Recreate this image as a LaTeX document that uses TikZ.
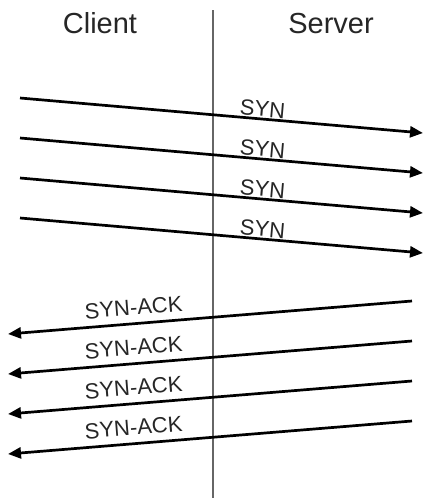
\documentclass[tikz,border=0pt]{standalone}
\usepackage{fontspec}
\setmainfont{Liberation Sans}
\usetikzlibrary{arrows.meta}
\begin{document}
\begin{tikzpicture}[x=1pt,y=-1pt,
  msg/.style={line width=2.7pt, -{Triangle[length=13pt,width=11pt]}},
  lbl/.style={font=\fontsize{22}{24}\selectfont, sloped, inner sep=1pt, text=black!85},
  head/.style={font=\fontsize{29}{32}\selectfont, anchor=base, text=black!85},
  divider/.style={line width=1.6pt, black!60}]
\useasboundingbox (0,0) rectangle (432,498);
% headings
\node[head] (client) at (100,33) {Client};
\node[head] (server) at (331,33) {Server};
% divider
\coordinate (vt) at (213,10);
\coordinate (vb) at (213,498);
\draw[divider] (vt) -- (vb);
% SYN messages
\foreach \i/\y in {1/98,2/138,3/178,4/218}{
  \coordinate (c\i) at (20,\y);
  \coordinate (s\i) at (423,\y+35);
  \draw[msg] (c\i) -- node[lbl, pos=0.6, above] (syn\i) {SYN} (s\i);
}
% SYN-ACK messages
\foreach \i/\y in {1/301,2/341,3/381,4/421}{
  \coordinate (sa\i) at (412,\y);
  \coordinate (ca\i) at (8,\y+33);
  \draw[msg] (sa\i) -- node[lbl, pos=0.686, above=6pt] (ack\i) {SYN-ACK} (ca\i);
}
\end{tikzpicture}
\end{document}
